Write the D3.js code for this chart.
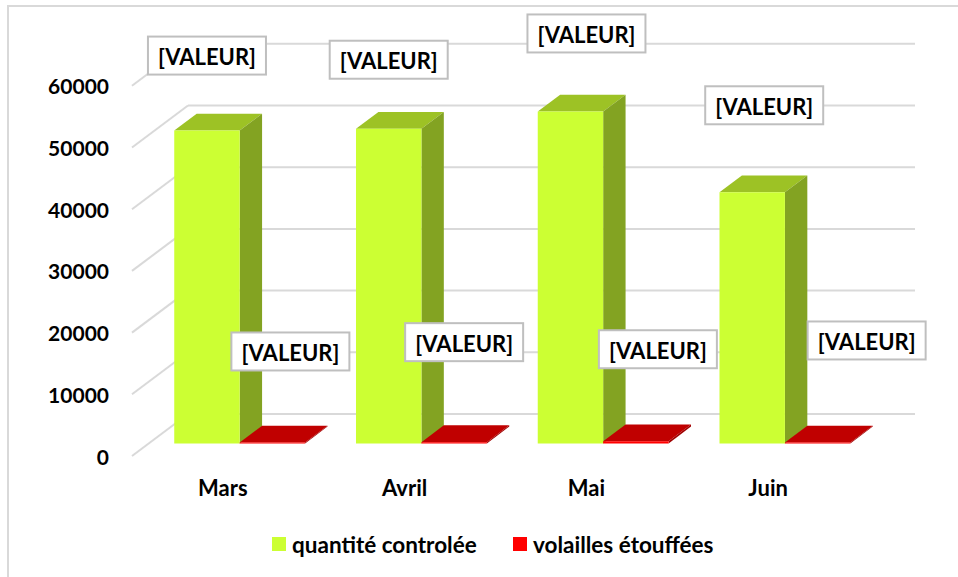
<!DOCTYPE html>
<html>
<head>
<meta charset="utf-8">
<script src="https://cdn.jsdelivr.net/npm/d3@7"></script>
<style>
body{margin:0;background:#fff;}
text{font-family:Lato,"Open Sans",sans-serif;font-weight:bold;fill:#000;}
</style>
</head>
<body>
<div id="chart"></div>
<script>
var months=["Mars","Avril","Mai","Juin"];
var seriesNames=["quantité controlée","volailles étouffées"];
var quantite=[50700,51000,53800,40700];
var volailles=[150,200,350,150];
var yTicks=[0,10000,20000,30000,40000,50000,60000];
var labelText="[VALEUR]";
// label nudges (dragged by hand in the original), relative to the top front centre of each bar
var nudgeQ=[[0,-75],[0,-69],[16,-78],[12,-87]];
var nudgeV=[[18,-91],[10,-100],[22,-92],[49,-102]];

var width=958,height=577;
var DX=56,DY=42;          // depth of the 3d box
var z0=0.3,z1=0.7;        // depth of the bars
var colQ={front:"#ccff33",side:"#83a322",top:"#9dc225"};
var colV={front:"#ff0000",side:"#a00000",top:"#c00000"};

var svg=d3.select("#chart").append("svg").attr("width",width).attr("height",height);

svg.append("rect").attr("x",8).attr("y",6).attr("width",1000).attr("height",1000)
	.attr("fill","white").attr("stroke","#d9d9d9").attr("stroke-width",2);

var x=d3.scaleBand().domain(months).range([132,859]);
var xs=d3.scaleBand().domain(seriesNames).range([x.bandwidth()*0.14,x.bandwidth()*0.86]);
var y=d3.scaleLinear().domain([0,60000]).range([456,85.8]);

function P(xf,v,z){return [xf+z*DX,y(v)-z*DY];}
function poly(pts){return pts.map(function(p){return p.join(",");}).join(" ");}

//==================grid=======================
var grid=svg.append("g").attr("class","grid");
grid.selectAll("line.back").data(yTicks).enter().append("line")
	.attr("x1",function(d){return P(x.range()[0],d,1)[0];})
	.attr("x2",function(d){return P(x.range()[1],d,1)[0];})
	.attr("y1",function(d){return P(0,d,1)[1];})
	.attr("y2",function(d){return P(0,d,1)[1];})
	.attr("stroke","#d9d9d9").attr("stroke-width",2);
grid.selectAll("line.side").data(yTicks).enter().append("line")
	.attr("x1",function(d){return P(x.range()[0],d,0)[0];})
	.attr("x2",function(d){return P(x.range()[0],d,1)[0];})
	.attr("y1",function(d){return P(0,d,0)[1];})
	.attr("y2",function(d){return P(0,d,1)[1];})
	.attr("stroke","#d9d9d9").attr("stroke-width",2);

svg.append("g").selectAll("text").data(yTicks).enter().append("text")
	.attr("x",109).attr("y",function(d){return y(d);})
	.attr("text-anchor","end").attr("dominant-baseline","central")
	.style("font-size","21px").text(function(d){return d;});

//==================bars=======================
function drawBar(g,x0,w,v,col){
	var x1=x0+w;
	g.append("polygon").attr("points",poly([P(x0,v,z0),P(x1,v,z0),P(x1,v,z1),P(x0,v,z1)])).attr("fill",col.top);
	g.append("polygon").attr("points",poly([P(x1,0,z0),P(x1,v,z0),P(x1,v,z1),P(x1,0,z1)])).attr("fill",col.side);
	g.append("polygon").attr("points",poly([P(x0,0,z0),P(x1,0,z0),P(x1,v,z0),P(x0,v,z0)])).attr("fill",col.front);
}
var bars=svg.append("g").attr("class","bars");
var labels=[];
months.forEach(function(m,i){
	var g=bars.append("g");
	var xq=x(m)+xs(seriesNames[0]),xv=x(m)+xs(seriesNames[1]),w=xs.bandwidth();
	drawBar(g,xq,w,quantite[i],colQ);
	drawBar(g,xv,w,volailles[i],colV);
	var pq=P(xq+w/2,quantite[i],z0),pv=P(xv+w/2,volailles[i],z0);
	labels.push([pq[0]+nudgeQ[i][0],pq[1]+nudgeQ[i][1]]);
	labels.push([pv[0]+nudgeV[i][0],pv[1]+nudgeV[i][1]]);
});

svg.append("g").selectAll("text").data(months).enter().append("text")
	.attr("x",function(d){return x(d)+x.bandwidth()/2;}).attr("y",487)
	.attr("text-anchor","middle").attr("dominant-baseline","central")
	.style("font-size","22px").text(function(d){return d;});

//==================data labels=======================
var lg=svg.append("g").selectAll("g").data(labels).enter().append("g")
	.attr("transform",function(d){return "translate("+d[0]+","+d[1]+")";});
lg.append("rect").attr("x",-59).attr("y",-19).attr("width",118).attr("height",38)
	.attr("fill","white").attr("stroke","#bfbfbf").attr("stroke-width",2);
lg.append("text").attr("x",0).attr("y",1).attr("text-anchor","middle").attr("dominant-baseline","central")
	.style("font-size","22px").text(labelText);

//==================legend=======================
var legX=[272,513];
var leg=svg.append("g").selectAll("g").data(seriesNames).enter().append("g")
	.attr("transform",function(d,i){return "translate("+legX[i]+",537)";});
leg.append("rect").attr("width",14).attr("height",14)
	.attr("fill",function(d,i){return i==0?colQ.front:colV.front;});
leg.append("text").attr("x",20).attr("y",7).attr("dominant-baseline","central")
	.style("font-size","22.5px").text(function(d){return d;});
</script>
</body>
</html>
